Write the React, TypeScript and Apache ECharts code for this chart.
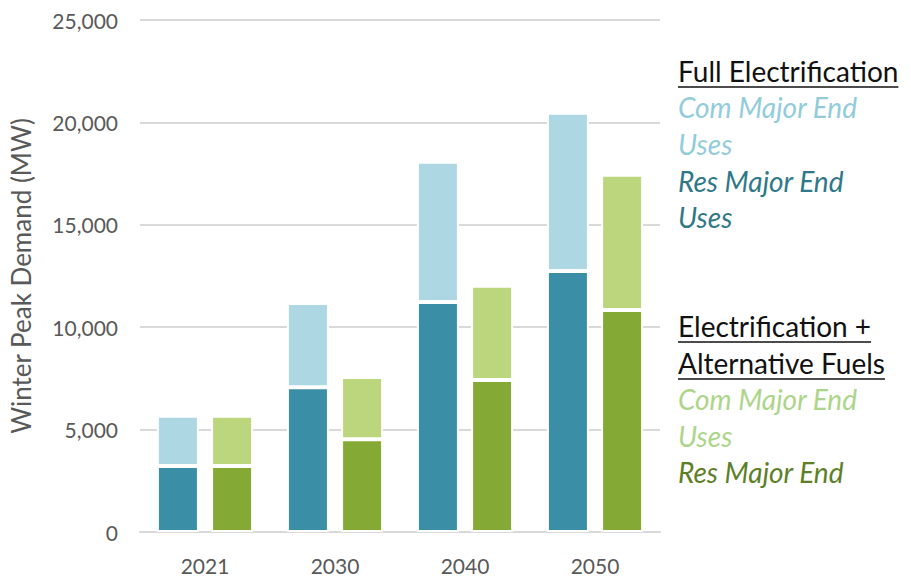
import React, { useEffect, useRef } from "react";
import * as echarts from "echarts";

const years = ["2021", "2030", "2040", "2050"];
const feRes = [3220, 7070, 11230, 12740];
const feCom = [2460, 4110, 6850, 7730];
const altRes = [3220, 4530, 7420, 10840];
const altCom = [2460, 3040, 4600, 6600];
const yTicks = { min: 0, max: 25000, interval: 5000 };

const COLORS = {
  feCom: "#ADD8E3",
  feRes: "#3A8FA6",
  altCom: "#BCD67E",
  altRes: "#84A935",
};
const LEG = {
  feCom: "#92CCDA",
  feRes: "#2F7888",
  altCom: "#ADD58A",
  altRes: "#5E7F27",
};

const FONT = "Lato, 'Open Sans', sans-serif";

function measure(text: string, size: number, style = "normal") {
  const c = document.createElement("canvas").getContext("2d");
  if (!c) return text.length * size * 0.5;
  c.font = `${style} ${size}px Lato`;
  return c.measureText(text).width;
}

export default function App() {
  const ref = useRef<HTMLDivElement>(null);
  useEffect(() => {
    if (!ref.current) return;
    const chart = echarts.init(ref.current, undefined, { renderer: "svg" });
    const hx = 678;
    const hSize = 28;
    const iSize = 28;
    const header = (t: string, y: number) => [
      {
        type: "text",
        left: hx,
        top: y - hSize / 2 - 1,
        style: { text: t, fill: "#111", font: `${hSize}px ${FONT}` },
      },
      {
        type: "line",
        shape: { x1: hx, y1: y + 15, x2: hx + measure(t, hSize), y2: y + 15 },
        style: { stroke: "#111", lineWidth: 1.5 },
      },
    ];
    const item = (t: string, y: number, color: string) => ({
      type: "text",
      left: hx,
      top: y - iSize / 2 - 1,
      style: { text: t, fill: color, font: `italic ${iSize}px ${FONT}` },
    });
    const graphics = [
      ...header("Full Electrification", 72),
      item("Com Major End", 108, LEG.feCom),
      item("Uses", 145, LEG.feCom),
      item("Res Major End", 182, LEG.feRes),
      item("Uses", 218, LEG.feRes),
      ...header("Electrification +", 327),
      ...header("Alternative Fuels", 364),
      item("Com Major End", 400, LEG.altCom),
      item("Uses", 437, LEG.altCom),
      item("Res Major End", 473, LEG.altRes),
    ];
    const bar = (name: string, stack: string, data: number[], color: string) => ({
      name,
      type: "bar",
      stack,
      data,
      barWidth: 42,
      barGap: "29%",
      itemStyle: { color, borderColor: "#fff", borderWidth: 2 },
    });
    chart.setOption({
      animation: false,
      grid: { left: 140, right: 251, top: 20, bottom: 47, containLabel: false },
      xAxis: {
        type: "category",
        data: years,
        axisLine: { lineStyle: { color: "#d9d9d9", width: 2 } },
        axisTick: { show: false },
        axisLabel: { color: "#595959", fontSize: 21, fontFamily: FONT, margin: 23 },
      },
      yAxis: {
        type: "value",
        ...yTicks,
        name: "Winter Peak Demand (MW)",
        nameLocation: "middle",
        nameGap: 106,
        nameTextStyle: { color: "#595959", fontSize: 26, fontFamily: FONT },
        axisLine: { show: false },
        axisTick: { show: false },
        splitLine: { lineStyle: { color: "#d9d9d9", width: 2 } },
        axisLabel: {
          color: "#595959",
          fontSize: 21,
          fontFamily: FONT,
          margin: 22,
          formatter: (v: number) => v.toLocaleString("en-US"),
        },
      },
      series: [
        bar("FE Res Major End Uses", "fe", feRes, COLORS.feRes),
        bar("FE Com Major End Uses", "fe", feCom, COLORS.feCom),
        bar("Alt Res Major End Uses", "alt", altRes, COLORS.altRes),
        bar("Alt Com Major End Uses", "alt", altCom, COLORS.altCom),
      ],
      graphic: graphics,
    });
    return () => chart.dispose();
  }, []);
  return <div ref={ref} style={{ width: 911, height: 579, position: "absolute", left: 0, top: 0 }} />;
}
